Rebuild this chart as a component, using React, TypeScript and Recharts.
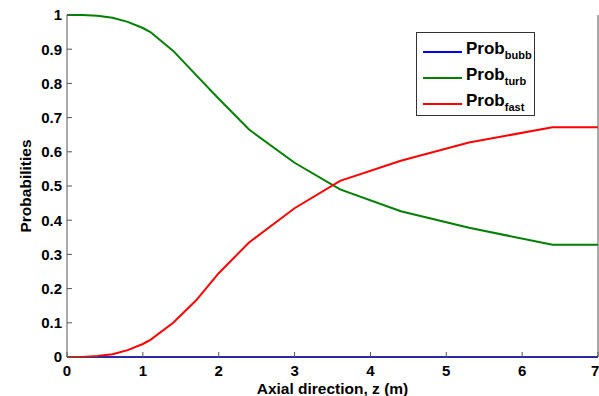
import React from "react";
import { LineChart, Line, XAxis, YAxis, Legend } from "recharts";

// axial position z (m)
const zPositions = [0, 0.2, 0.4, 0.6, 0.8, 1.0, 1.1, 1.4, 1.7, 2.0, 2.4, 3.0, 3.6, 4.4, 5.3, 6.4, 7.0];
const probBubb = [0, 0, 0, 0, 0, 0, 0, 0, 0, 0, 0, 0, 0, 0, 0, 0, 0];
const probTurb = [1.0, 1.0, 0.998, 0.992, 0.98, 0.962, 0.95, 0.895, 0.825, 0.755, 0.665, 0.568, 0.49, 0.426, 0.378, 0.328, 0.328];
const probFast = [0, 0, 0.003, 0.008, 0.02, 0.038, 0.05, 0.1, 0.165, 0.245, 0.335, 0.435, 0.515, 0.574, 0.627, 0.672, 0.672];

const xTicks = [0, 1, 2, 3, 4, 5, 6, 7];
const yTicks = [0, 0.1, 0.2, 0.3, 0.4, 0.5, 0.6, 0.7, 0.8, 0.9, 1];

const series = [
  { key: "bubb", label: "bubb", color: "#0000ff" },
  { key: "turb", label: "turb", color: "#008000" },
  { key: "fast", label: "fast", color: "#ff0000" },
];

const data = zPositions.map((z, i) => ({
  z,
  bubb: probBubb[i],
  turb: probTurb[i],
  fast: probFast[i],
}));

const font = "Arial, 'Liberation Sans', sans-serif";
const axisColor = "#555";
const tickStyle = { fill: "#000", fontSize: 15, fontWeight: 700, fontFamily: font };

const LegendBox = () => (
  <div
    style={{
      border: "1px solid #333",
      background: "#fff",
      width: 119,
      height: 84,
      boxSizing: "border-box",
      padding: "6px 0 0 6px",
      fontFamily: font,
      fontWeight: 700,
    }}
  >
    {series.map((s) => (
      <div key={s.key} style={{ display: "flex", alignItems: "center", height: 26 }}>
        <div style={{ width: 39, height: 2, background: s.color, marginRight: 4 }} />
        <span style={{ fontSize: 17, color: "#000", lineHeight: "17px" }}>
          Prob<sub style={{ fontSize: 11, verticalAlign: "-5px" }}>{s.label}</sub>
        </span>
      </div>
    ))}
  </div>
);

export default function App() {
  return (
    <div style={{ position: "absolute", left: 0, top: 0, background: "#fff" }}>
      <LineChart width={599} height={396} data={data} margin={{ top: 15, right: 0, bottom: 0, left: 17 }}>
        <XAxis
          dataKey="z"
          type="number"
          domain={[0, 7]}
          ticks={xTicks}
          height={39}
          stroke={axisColor}
          tickSize={-5}
          tickMargin={13}
          tick={tickStyle}
          label={{
            value: "Axial direction, z (m)",
            position: "insideBottom",
            offset: 2,
            style: { fill: "#000", fontSize: 15.5, fontWeight: 700, fontFamily: font },
          }}
        />
        <XAxis
          xAxisId="top"
          orientation="top"
          type="number"
          domain={[0, 7]}
          ticks={xTicks}
          height={0}
          stroke={axisColor}
          tickSize={-5}
          tickFormatter={() => ""}
        />
        <YAxis
          type="number"
          domain={[0, 1]}
          ticks={yTicks}
          width={50}
          stroke={axisColor}
          tickSize={-5}
          tickMargin={10}
          tick={tickStyle}
          label={{
            value: "Probabilities",
            angle: -90,
            position: "insideLeft",
            offset: 8,
            style: { textAnchor: "middle", fill: "#000", fontSize: 15.5, fontWeight: 700, fontFamily: font },
          }}
        />
        <YAxis
          yAxisId="right"
          orientation="right"
          type="number"
          domain={[0, 1]}
          ticks={yTicks}
          width={1}
          stroke={axisColor}
          tickSize={-5}
          tickFormatter={() => ""}
        />
        <Legend
          layout="vertical"
          align="center"
          verticalAlign="middle"
          content={() => <LegendBox />}
          wrapperStyle={{ position: "absolute", left: 416, top: 32, width: 119 }}
        />
        {series.map((s) => (
          <Line
            key={s.key}
            dataKey={s.key}
            stroke={s.color}
            strokeWidth={2}
            dot={false}
            type="linear"
            isAnimationActive={false}
          />
        ))}
      </LineChart>
    </div>
  );
}
